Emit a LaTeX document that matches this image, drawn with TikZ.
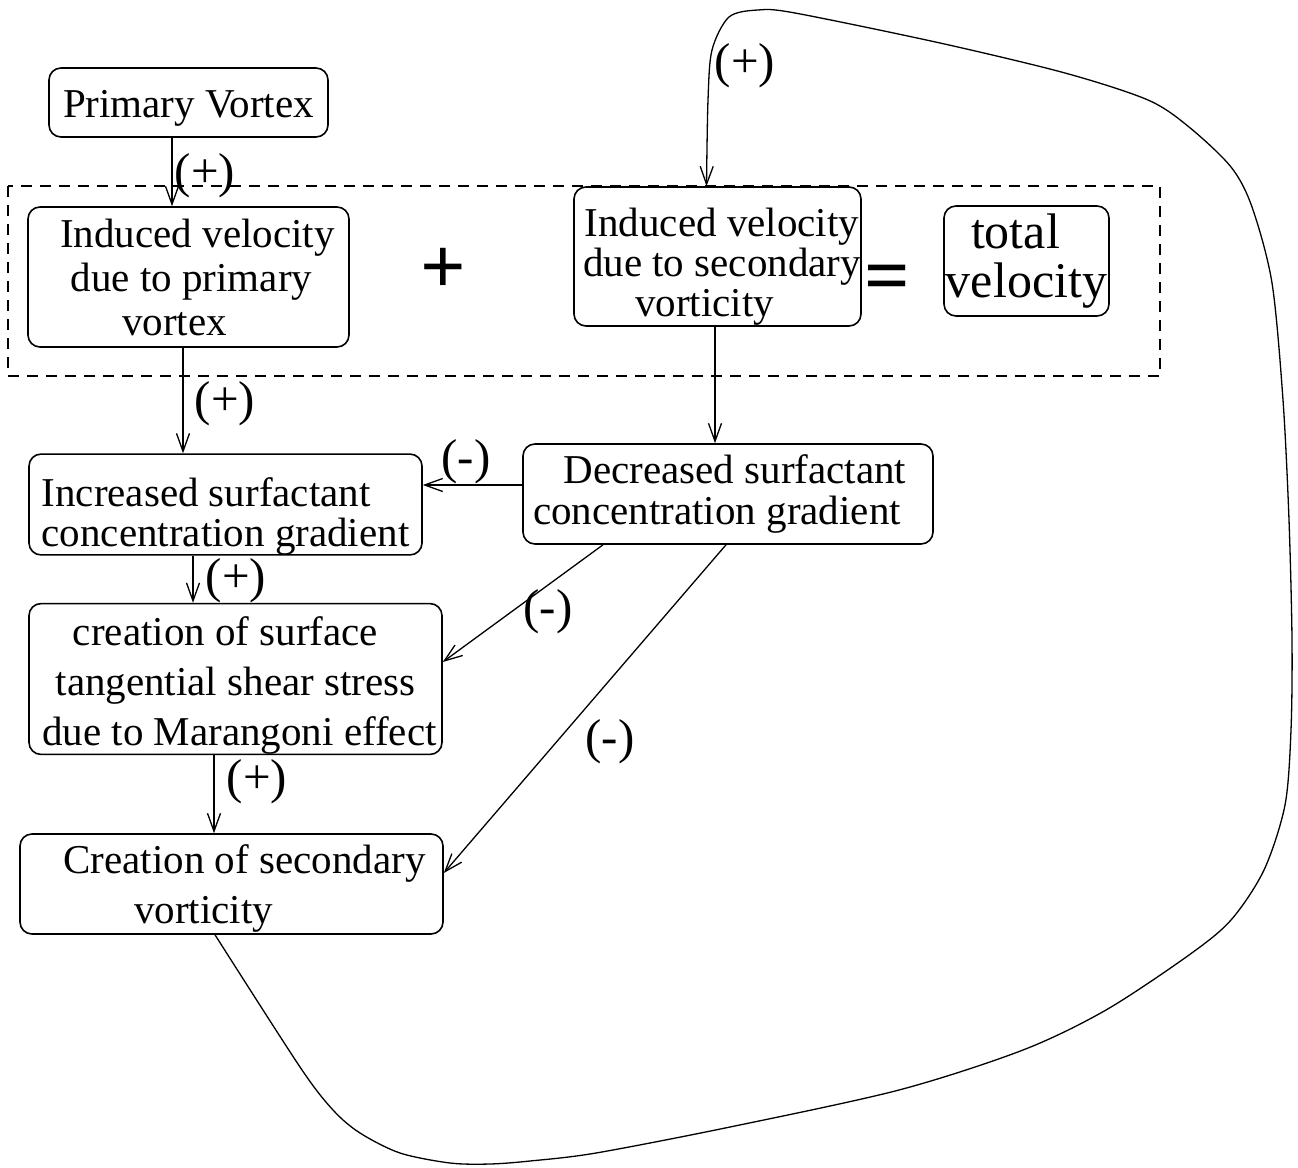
\documentclass[tikz,border=0pt]{standalone}
\usepackage{fontspec}
\setmainfont{Liberation Serif}
\usetikzlibrary{arrows.meta,calc}
% invisible strut that pushes a text block down
\newcommand{\tstrut}[1]{\rule{0pt}{#1}}
\begin{document}
\begin{tikzpicture}[x=1pt,y=-1pt,
  box/.style={draw, line width=1.6pt, rounded corners=12pt, inner sep=0pt, align=center},
  txt/.style={font=\fontsize{41}{#1}\selectfont},
  txt/.default=44,
  arr/.style={line width=1.3pt, -{Straight Barb[length=18pt,width=13pt,line width=1.3pt]}},
  sign/.style={font=\fontsize{49}{49}\selectfont, inner sep=0pt},
  opsign/.style={font=\fontsize{80}{80}\selectfont\bfseries, inner sep=0pt},
  frame/.style={line width=1.3pt, dash pattern=on 11pt off 8pt},
]
\useasboundingbox (0,0) rectangle (1298,1167);

% grouping frame around the velocity sum
\draw[frame] (8,186) rectangle (1160,376);

% boxes
\node[box, txt, minimum width=279pt, minimum height=69pt] (pv) at (188.5,102.5) {\tstrut{38pt}Primary Vortex};
\node[box, txt=44, minimum width=321pt, minimum height=140pt] (ip) at (188.5,277)
  {\hspace*{18pt}Induced velocity\\\hspace*{6pt}due to primary\\vortex\hspace*{28pt}};
\node[box, txt=40, minimum width=287pt, minimum height=139pt] (isv) at (717.5,256.5)
  {\tstrut{48pt}\hspace*{9pt}Induced velocity\\\hspace*{9pt}due to secondary\\vorticity\hspace*{26pt}};
\node[box, font=\fontsize{50}{49}\selectfont, minimum width=165pt, minimum height=110pt] (tv) at (1026.5,261)
  {total\hspace*{22pt}\\velocity};
\node[opsign] (plus) at (443,271) {+};
\node[opsign] (eq) at (887,284) {=};

\node[box, txt=40, align=left, minimum width=393pt, minimum height=99pt] (inc) at (225.5,504.5)
  {\tstrut{52pt}Increased surfactant\\concentration gradient};
\node[box, txt=41, minimum width=410pt, minimum height=100pt] (dec) at (728,494)
  {\hspace*{14pt}Decreased surfactant\\concentration gradient\hspace*{22pt}};
\node[box, txt=50, minimum width=413pt, minimum height=150pt] (cs) at (235.5,679)
  {\tstrut{42pt}creation of surface\hspace*{20pt}\\tangential shear stress\hspace*{6pt}\\\hspace*{8pt}due to Marangoni effect};
\node[box, txt=50, minimum width=423pt, minimum height=100pt] (csv) at (231.5,884)
  {\tstrut{38pt}\hspace*{26pt}Creation of secondary\\vorticity\hspace*{56pt}};

% connectors
\draw[arr] ([xshift=-16.5pt]pv.south) -- ([xshift=-16.5pt]pv.south |- ip.north);
\draw[arr] ([xshift=-5.5pt]ip.south) -- ([xshift=-5.5pt]ip.south |- inc.north);
\draw[arr] ([xshift=-2.5pt]isv.south) -- ([xshift=-2.5pt]isv.south |- dec.north);
\draw[arr] ([yshift=9pt]dec.west) -- ([yshift=9pt]dec.west -| inc.east);
\draw[arr] ([xshift=-32.5pt]inc.south) -- ([xshift=-32.5pt]inc.south |- cs.north);
\draw[arr] ([xshift=-21.5pt]cs.south) -- ([xshift=-21.5pt]cs.south |- csv.north);
\draw[arr] ([xshift=-125pt]dec.south) -- ([yshift=17pt]cs.east);
\draw[arr] ([xshift=-2pt]dec.south) -- ([yshift=11pt]csv.east);

% feedback loop back to the secondary induced velocity
\draw[arr] plot[smooth, tension=0.5] coordinates {
  ([xshift=-16.5pt]csv.south) (300,1067) (333,1110) (360,1133) (400,1153)
  (450,1163) (490,1164) (530,1161) (596,1153) (730,1127) (899,1090)
  (1023,1050) (1106,1010) (1189,955) (1231,920) (1264,870) (1285,805)
  (1291,730) (1292,640) (1289,520) (1283,400) (1272,283) (1252,207)
  (1231,167) (1189,127) (1148,100) (1065,73) (940,43) (795,13) (758,10)
  (729,17) (712,50) (708,100) ([xshift=-11pt]isv.north)};

% signs on the connectors
\node[sign] (s1) at (205,176) {(+)};
\node[sign] (s2) at (225,404) {(+)};
\node[sign] (s3) at (466,462) {(-)};
\node[sign] (s4) at (236,581) {(+)};
\node[sign] (s5) at (548,612) {(-)};
\node[sign] (s6) at (610,742) {(-)};
\node[sign] (s7) at (257,782) {(+)};
\node[sign] (s8) at (745,66) {(+)};
\end{tikzpicture}
\end{document}
